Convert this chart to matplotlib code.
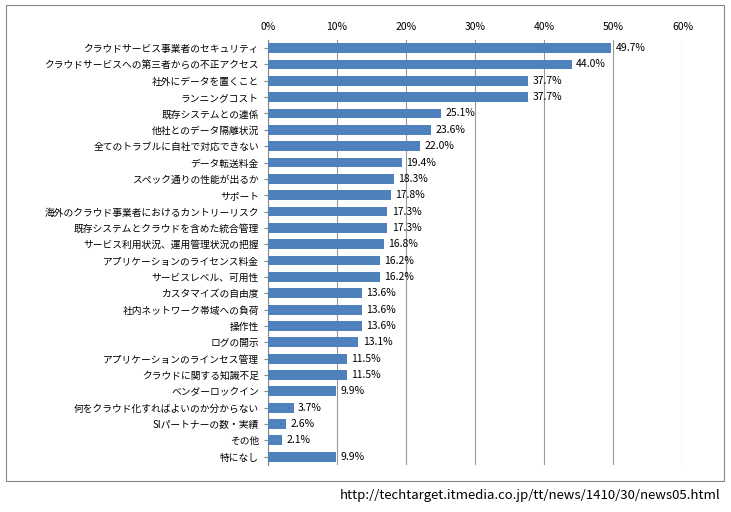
import matplotlib.pyplot as plt

plt.rcParams['font.family'] = ['Noto Sans CJK JP', 'DejaVu Sans']

# data
labels = ["クラウドサービス事業者のセキュリティ", "クラウドサービスへの第三者からの不正アクセス",
          "社外にデータを置くこと", "ランニングコスト", "既存システムとの連係",
          "他社とのデータ隔離状況", "全てのトラブルに自社で対応できない", "データ転送料金",
          "スペック通りの性能が出るか", "サポート", "海外のクラウド事業者におけるカントリーリスク",
          "既存システムとクラウドを含めた統合管理", "サービス利用状況、運用管理状況の把握",
          "アプリケーションのライセンス料金", "サービスレベル、可用性", "カスタマイズの自由度",
          "社内ネットワーク帯域への負荷", "操作性", "ログの開示", "アプリケーションのラインセス管理",
          "クラウドに関する知識不足", "ベンダーロックイン", "何をクラウド化すればよいのか分からない",
          "SIパートナーの数・実績", "その他", "特になし"]
values = [49.7, 44.0, 37.7, 37.7, 25.1, 23.6, 22.0, 19.4, 18.3, 17.8, 17.3, 17.3, 16.8,
          16.2, 16.2, 13.6, 13.6, 13.6, 13.1, 11.5, 11.5, 9.9, 3.7, 2.6, 2.1, 9.9]

fig = plt.figure(figsize=(7.31, 5.12), dpi=100)
fig.patches.append(plt.Rectangle((0.008, 0.06), 0.982, 0.93, transform=fig.transFigure,
                                 fill=False, edgecolor='#888888', linewidth=0.8))
ax = fig.add_axes([0.3666, 0.092, 0.567, 0.83])

y = range(len(values))
ax.barh(y, values, height=0.6, color='#4f81bd', zorder=3)
for i, v in zip(y, values):
    ax.text(v + 0.6, i, f"{v:.1f}%", va='center', fontsize=7.5)

ax.set_ylim(len(values) - 0.5, -0.5)
ax.set_xlim(0, 60)
ax.set_xticks(range(0, 61, 10))
ax.set_xticklabels([f"{t}%" for t in range(0, 61, 10)], fontsize=7.5)
ax.xaxis.tick_top()
ax.tick_params(axis='x', length=0, pad=6)
ax.set_yticks(list(y))
ax.set_yticklabels(labels, fontsize=7)
ax.tick_params(axis='y', length=3, color='#888888')
ax.grid(axis='x', color='#999999', linewidth=0.8, zorder=0)
for s in ['top', 'right', 'bottom']:
    ax.spines[s].set_visible(False)
ax.spines['left'].set_color('#888888')

fig.text(0.985, 0.02, "http://techtarget.itmedia.co.jp/tt/news/1410/30/news05.html",
         ha='right', va='bottom', fontsize=9.5)

fig.savefig('out.png', dpi=100)
